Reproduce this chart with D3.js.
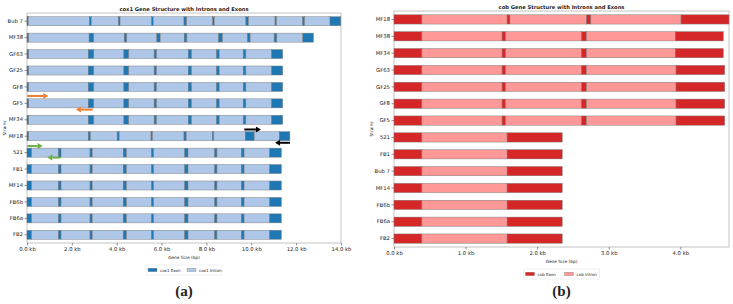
<!DOCTYPE html>
<html>
<head>
<meta charset="utf-8">
<script src="https://cdn.jsdelivr.net/npm/d3@7/dist/d3.min.js"></script>
<style>
  body { margin: 0; background: #fff; }
  text { font-family: "DejaVu Sans", sans-serif; fill: #222; }
</style>
</head>
<body>
<svg id="chart" width="733" height="304"></svg>
<script>
// ---------------- data ---------------- //

/* cox1: strains top to bottom, segment lengths in bp (exon, intron, exon, ...) */
const cox1Strains = ["Bub 7", "MF38", "GF63", "GF25", "GF8", "GF5", "MF34",
  "MF18", "521", "FB1", "MF14", "FB6b", "FB6a", "FB2"];

const cox1Segments = [
  [60, 2720, 90, 1200, 80, 1410, 70, 1370, 120, 1160, 70, 1410, 120, 1180, 70, 1160, 90, 1130, 480],
  [80, 2690, 210, 1360, 110, 1340, 150, 1070, 120, 1410, 180, 1110, 120, 1070, 120, 1160, 470],
  [80, 2650, 250, 1340, 220, 1130, 110, 1410, 150, 1110, 120, 1070, 120, 1150, 490],
  [80, 2650, 250, 1340, 220, 1130, 110, 1410, 150, 1110, 120, 1070, 120, 1150, 490],
  [80, 2650, 250, 1340, 220, 1130, 110, 1410, 150, 1110, 120, 1070, 120, 1150, 490],
  [80, 2650, 250, 1340, 220, 1130, 110, 1410, 150, 1110, 120, 1070, 120, 1150, 490],
  [80, 2650, 250, 1340, 220, 1130, 110, 1410, 150, 1110, 120, 1070, 120, 1150, 490],
  [80, 2650, 100, 1190, 90, 1420, 70, 1400, 100, 1160, 70, 1400, 400, 1120, 470],
  [210, 1190, 120, 1290, 100, 1380, 150, 1110, 100, 1380, 150, 1190, 100, 1090, 120, 1140, 520],
  [210, 1190, 120, 1290, 100, 1380, 150, 1110, 100, 1380, 150, 1190, 100, 1090, 120, 1140, 520],
  [210, 1190, 120, 1290, 100, 1380, 150, 1110, 100, 1380, 150, 1190, 100, 1090, 120, 1140, 520],
  [210, 1190, 120, 1290, 100, 1380, 150, 1110, 100, 1380, 150, 1190, 100, 1090, 120, 1140, 520],
  [210, 1190, 120, 1290, 100, 1380, 150, 1110, 100, 1380, 150, 1190, 100, 1090, 120, 1140, 520],
  [210, 1190, 120, 1290, 100, 1380, 150, 1110, 100, 1380, 150, 1190, 100, 1090, 120, 1140, 520]
];

const cox1Ticks = [0, 2000, 4000, 6000, 8000, 10000, 12000, 14000];

/* primer arrows on the cox1 panel: [strain, row offset, from bp, to bp, colour] */
const cox1Primers = [
  ["GF8", 0.55, 10, 950, "#ed7d31"],
  ["GF5", 0.38, 2930, 2180, "#ed7d31"],
  ["MF18", 0.6, 10, 700, "#70ad47"],
  ["521", 0.3, 1500, 905, "#70ad47"],
  ["MF18", -0.41, 9690, 10430, "#000"],
  ["MF18", 0.4, 11725, 11060, "#000"]
];

/* cob */
const cobStrains = ["MF18", "MF38", "MF34", "GF63", "GF25", "GF8", "GF5",
  "521", "FB1", "Bub 7", "MF14", "FB6b", "FB6a", "FB2"];

const cobSegments = [
  [390, 1190, 40, 1070, 60, 1260, 670],
  [390, 1120, 50, 1060, 70, 1240, 670],
  [390, 1120, 50, 1060, 70, 1240, 670],
  [390, 1120, 50, 1060, 70, 1250, 680],
  [390, 1120, 50, 1060, 70, 1250, 680],
  [390, 1120, 50, 1060, 70, 1250, 680],
  [390, 1120, 50, 1060, 70, 1250, 680],
  [390, 1190, 770],
  [390, 1190, 770],
  [390, 1190, 770],
  [390, 1190, 770],
  [390, 1190, 770],
  [390, 1190, 770],
  [390, 1190, 770]
];

const cobTicks = [0, 1000, 2000, 3000, 4000];

// ---------------- drawing ---------------- //

const svg = d3.select("#chart");

drawPanel({
  left: 27, right: 341, top: 13, bottom: 243,
  strains: cox1Strains, segments: cox1Segments, ticks: cox1Ticks,
  xMax: 14000, gene: "cox1",
  exon: "#1f77b4", intron: "#aec7e8",
  primers: cox1Primers, label: "(a)"
});

drawPanel({
  left: 394, right: 729, top: 11, bottom: 247,
  strains: cobStrains, segments: cobSegments, ticks: cobTicks,
  xMax: 4680, gene: "cob",
  exon: "#d62728", intron: "#ff9896",
  primers: [], label: "(b)"
});

/*
 * One panel: horizontal stacked exon/intron bars per strain.
 */
function drawPanel(p) {
  const g = svg.append("g");
  const cx = (p.left + p.right) / 2;

  const x = d3.scaleLinear()
    .domain([0, p.xMax])
    .range([p.left, p.right]);

  const y = d3.scaleBand()
    .domain(p.strains)
    .range([p.top, p.bottom])
    .paddingInner(0.45)
    .paddingOuter(0.225);

  // frame
  g.append("rect")
    .attr("x", p.left)
    .attr("y", p.top)
    .attr("width", p.right - p.left)
    .attr("height", p.bottom - p.top)
    .attr("fill", "none")
    .attr("stroke", "#b5b5b5")
    .attr("stroke-width", 0.8);

  // turn segment lengths into [start, end, isExon]
  const rows = p.strains.map((s, i) => {
    let pos = 0;
    return p.segments[i].map((len, j) => {
      const seg = { strain: s, start: pos, end: pos + len, exon: j % 2 === 0 };
      pos += len;
      return seg;
    });
  });

  g.append("g")
    .selectAll("rect")
    .data(rows.flat())
    .enter()
    .append("rect")
    .attr("x", d => x(d.start))
    .attr("width", d => x(d.end) - x(d.start))
    .attr("y", d => y(d.strain))
    .attr("height", y.bandwidth())
    .attr("fill", d => d.exon ? p.exon : p.intron)
    .attr("stroke", "#7a7a7a")
    .attr("stroke-width", 0.45);

  // axes
  const yAxis = g.append("g")
    .attr("transform", "translate(" + p.left + ",0)")
    .call(d3.axisLeft(y).tickSize(2.5).tickPadding(1.5));
  yAxis.select(".domain").remove();
  yAxis.selectAll("text").style("font-size", "5.3px").attr("fill", "#222");
  yAxis.selectAll("line").attr("stroke", "#444").attr("stroke-width", 0.6);

  const xAxis = g.append("g")
    .attr("transform", "translate(0," + p.bottom + ")")
    .call(d3.axisBottom(x)
      .tickValues(p.ticks)
      .tickFormat(d => (d / 1000).toFixed(1) + " kb")
      .tickSize(2.5)
      .tickPadding(2));
  xAxis.select(".domain").remove();
  xAxis.selectAll("text").style("font-size", "5.3px").attr("fill", "#222");
  xAxis.selectAll("line").attr("stroke", "#444").attr("stroke-width", 0.6);

  // titles
  g.append("text")
    .text(p.gene + " Gene Structure with Introns and Exons")
    .attr("x", cx)
    .attr("y", p.top - 2.5)
    .attr("text-anchor", "middle")
    .style("font-size", "5.2px")
    .style("font-weight", "bold");

  g.append("text")
    .text("Gene Size (bp)")
    .attr("x", cx)
    .attr("y", p.bottom + 16)
    .attr("text-anchor", "middle")
    .style("font-size", "4.3px");

  g.append("text")
    .text("Strains")
    .attr("transform", "translate(" + (p.left - 21) + "," + ((p.top + p.bottom) / 2) + ") rotate(-90)")
    .attr("text-anchor", "middle")
    .style("font-size", "4.3px");

  // legend
  const lg = g.append("g")
    .attr("transform", "translate(" + (cx - 38) + "," + (p.bottom + 22) + ")");
  lg.append("rect")
    .attr("width", 76).attr("height", 10).attr("rx", 1)
    .attr("fill", "#fff").attr("stroke", "#ddd").attr("stroke-width", 0.5);
  [[p.exon, p.gene + " Exon"], [p.intron, p.gene + " Intron"]].forEach((item, i) => {
    lg.append("rect")
      .attr("x", 2 + i * 39).attr("y", 3.2)
      .attr("width", 9).attr("height", 3.5)
      .attr("fill", item[0]).attr("stroke", "#7a7a7a").attr("stroke-width", 0.3);
    lg.append("text")
      .text(item[1])
      .attr("x", 14 + i * 39).attr("y", 6.6)
      .style("font-size", "4px");
  });

  // primer arrows
  const arrows = g.append("g");
  p.primers.forEach(a => {
    const yy = y(a[0]) + y.bandwidth() / 2 + a[1] * y.step();
    const x0 = x(a[2]), x1 = x(a[3]);
    const dir = x1 > x0 ? 1 : -1;
    const head = 5;
    arrows.append("line")
      .attr("x1", x0).attr("x2", x1 - dir * head)
      .attr("y1", yy).attr("y2", yy)
      .attr("stroke", a[4]).attr("stroke-width", 2);
    arrows.append("path")
      .attr("d", "M" + x1 + "," + yy +
        "L" + (x1 - dir * head) + "," + (yy - 3) +
        "L" + (x1 - dir * head) + "," + (yy + 3) + "Z")
      .attr("fill", a[4]);
  });

  // panel letter
  g.append("text")
    .text(p.label)
    .attr("x", cx)
    .attr("y", 296)
    .attr("text-anchor", "middle")
    .style("font-family", "'Liberation Serif', 'DejaVu Serif', serif")
    .style("font-size", "15px")
    .style("font-weight", "bold")
    .attr("fill", "#000");
}
</script>
</body>
</html>
